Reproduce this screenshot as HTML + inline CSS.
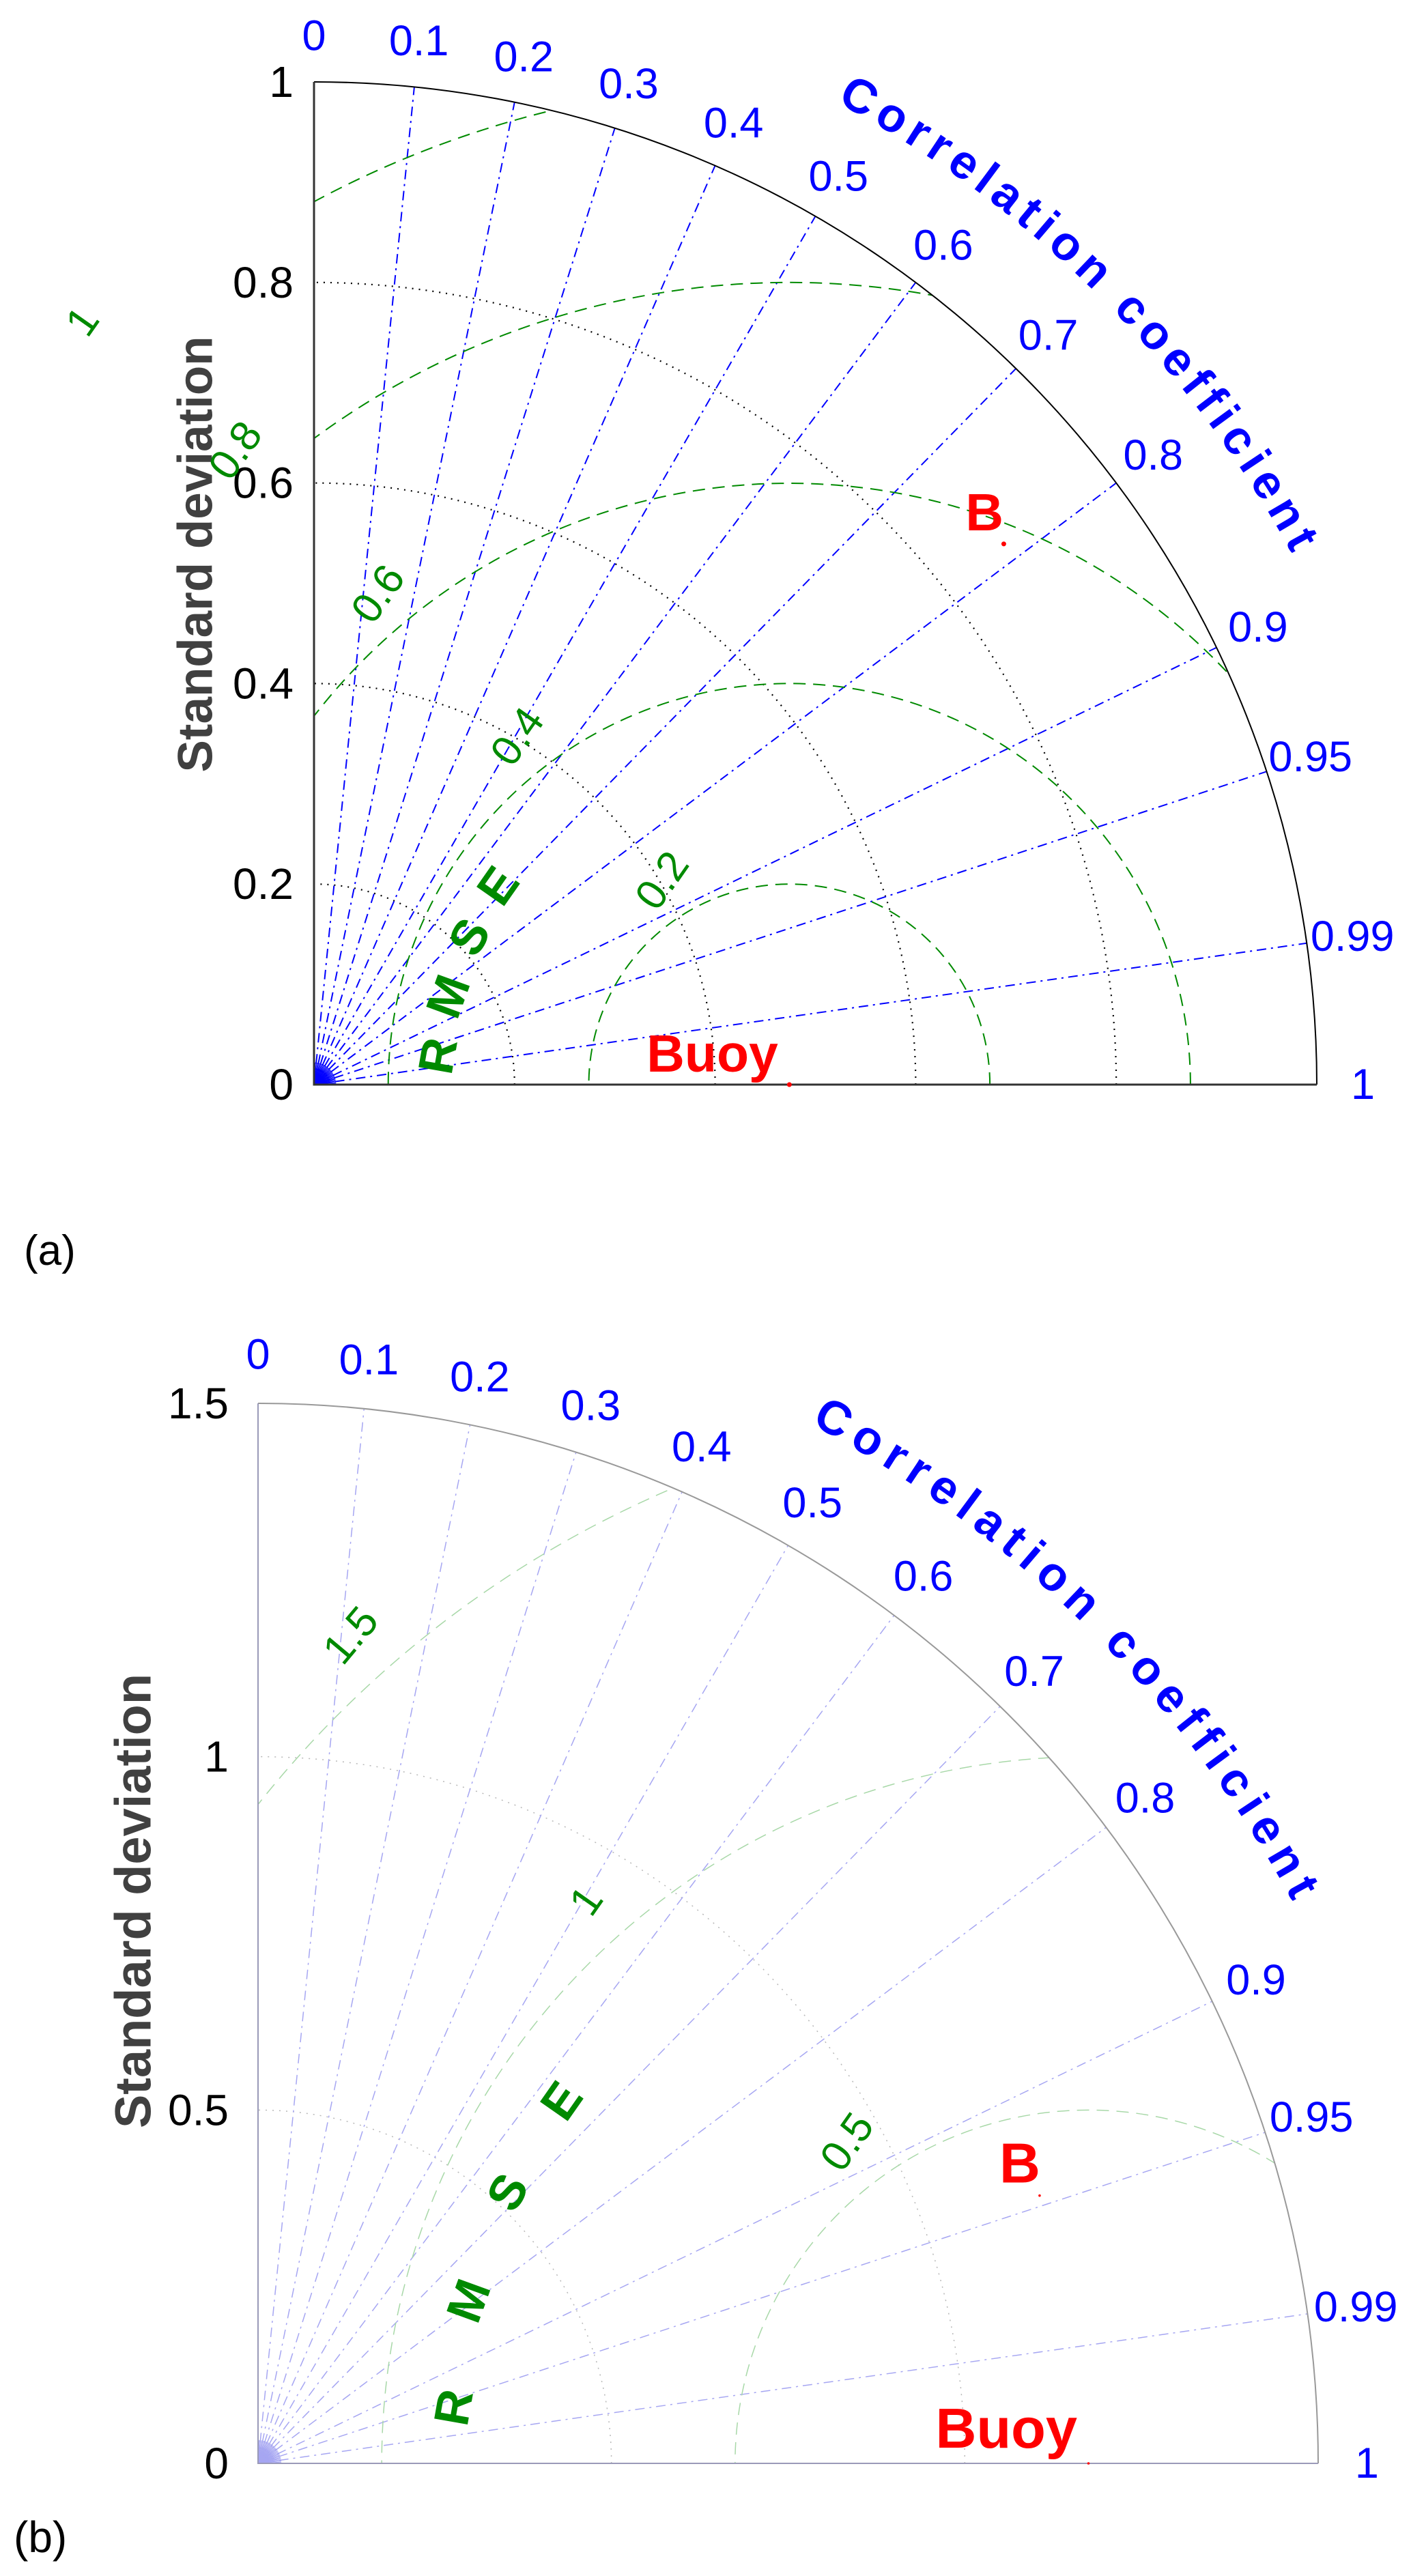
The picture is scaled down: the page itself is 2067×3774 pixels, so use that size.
<!DOCTYPE html>
<html><head><meta charset="utf-8"><style>
html,body{margin:0;padding:0;background:#fff;}
svg{display:block;font-family:"Liberation Sans",Arial,sans-serif;}
</style></head><body>
<svg id="svg" width="2067" height="3774" viewBox="0 0 2067 3774" xmlns="http://www.w3.org/2000/svg">
<text x="35" y="1853" font-size="62" fill="#000">(a)</text>
<text x="20" y="3739" font-size="64" fill="#000">(b)</text>
</svg>
<script>
// ---------- data ----------
const corrTicks = [0,0.1,0.2,0.3,0.4,0.5,0.6,0.7,0.8,0.9,0.95,0.99,1];
const corrTickLabels = ["0","0.1","0.2","0.3","0.4","0.5","0.6","0.7","0.8","0.9","0.95","0.99","1"];
// panel a
const aStdTicks = [0,0.2,0.4,0.6,0.8,1];
const aStdTickLabels = ["0","0.2","0.4","0.6","0.8","1"];
const aRmseLevels = [0.2,0.4,0.6,0.8,1.0];
const aRmseLabels = ["0.2","0.4","0.6","0.8","1"];
const aRefStd = 0.474;
const aModelNames = ["B"];
const aModelStd = [0.874];
const aModelCorr = [0.787];
// panel b
const bStdTicks = [0,0.5,1,1.5];
const bStdTickLabels = ["0","0.5","1","1.5"];
const bRmseLevels = [0.5,1.0,1.5];
const bRmseLabels = ["0.5","1","1.5"];
const bRefStd = 1.175;
const bModelNames = ["B"];
const bModelStd = [1.169];
const bModelCorr = [0.946];

const NS = "http://www.w3.org/2000/svg";
const svg = document.getElementById('svg');
function mk(tag, attrs, parent){
  const e = document.createElementNS(NS, tag);
  for (const k in attrs) e.setAttribute(k, attrs[k]);
  (parent||svg).appendChild(e);
  return e;
}

function panel(cfg){
  const {id, ox, oy, Rpx, maxStd, stdTicks, stdLabels, rmse, rmseLabels, refStd, names, mstd, mcorr, light, titleX, titleY, titleSize, tickGap, rmseLabelPos, letterPos, bText, buoyText, bFont, dotR} = cfg;
  const s = Rpx / maxStd;
  const X = (x)=> ox + x*s;
  const Y = (y)=> oy - y*s;
  const g = mk('g', {});
  
  

  const blue = light ? '#a6a6f2' : '#0000ff';
  const green = light ? '#a8d8a8' : '#008a00';
  const dotc = light ? '#b8b8b8' : '#000';
  const axisc = light ? '#9a9ab8' : '#333';
  const arcc = light ? '#999' : '#000';

  const clipId = id + '-clip';
  const defs = mk('defs', {}, g);
  const cp = mk('clipPath', {id: clipId}, defs);
  mk('path', {d:`M${ox},${oy} L${X(maxStd)},${oy} A${Rpx},${Rpx} 0 0 0 ${ox},${Y(maxStd)} Z`}, cp);

  // std dotted arcs
  stdTicks.forEach(v=>{
    if (v<=0 || v>=maxStd) return;
    const a = mk('path', {d:`M${X(v)},${oy} A${v*s},${v*s} 0 0 0 ${ox},${Y(v)}`, fill:'none', stroke:dotc, 'stroke-width':light?1.5:2.2, 'stroke-dasharray':'2 8'}, g);
    
    
  });

  // origin fan
  for (let d=3; d<90; d+=3){
    const t = d*Math.PI/180;
    const f = mk('line', {x1:ox, y1:oy, x2:ox+0.022*Rpx*Math.cos(t), y2:oy-0.022*Rpx*Math.sin(t), stroke:blue, 'stroke-width':1.2}, g);
    
    
  }

  // correlation spokes
  corrTicks.forEach(c=>{
    if (c<=0 || c>=1) return;
    const t = Math.acos(c);
    const l = mk('line', {x1:ox, y1:oy, x2:ox+Rpx*Math.cos(t), y2:oy-Rpx*Math.sin(t), stroke:blue, 'stroke-width':light?1.5:2, 'stroke-dasharray':'14 7 3 7'}, g);
    
    
  });

  // RMSE arcs
  const rg = mk('g', {'clip-path':`url(#${clipId})`}, g);
  rmse.forEach(r=>{
    const p = mk('path', {d:`M${X(refStd+r)},${oy} A${r*s},${r*s} 0 0 0 ${X(refStd-r)},${oy}`, fill:'none', stroke:green, 'stroke-width':light?1.5:2, 'stroke-dasharray':'18 11'}, rg);
    
    
  });

  // outer arc + axes
  const oa = mk('path', {d:`M${X(maxStd)},${oy} A${Rpx},${Rpx} 0 0 0 ${ox},${Y(maxStd)}`, fill:'none', stroke:arcc, 'stroke-width':2}, g);
  
  
  const ax = mk('path', {d:`M${ox},${Y(maxStd)} L${ox},${oy} L${X(maxStd)},${oy}`, fill:'none', stroke:axisc, 'stroke-width':light?2:3}, g);
  
  

  // std tick labels
  stdTicks.forEach((v,i)=>{
    const t = mk('text', {x:ox-tickGap, y:Y(v), 'font-size':64, 'text-anchor':'end', 'dominant-baseline':'central', fill:'#000'}, g);
    t.textContent = stdLabels[i];
    
    
  });

  // correlation tick labels
  corrTicks.forEach((c,i)=>{
    const t0 = Math.acos(c);
    const r = 1.046*Rpx;
    const t = mk('text', {x:ox+r*Math.cos(t0), y:oy-r*Math.sin(t0), 'font-size':63, 'text-anchor':'middle', 'dominant-baseline':'central', fill:'#0000ff'}, g);
    t.textContent = corrTickLabels[i];
    
    
  });

  // Correlation coefficient title along arc
  const rr = 1.126*Rpx - 24;
  const a1 = 62*Math.PI/180, a2 = 28.5*Math.PI/180;
  mk('path', {id:id+'-ccpath', d:`M${ox+rr*Math.cos(a1)},${oy-rr*Math.sin(a1)} A${rr},${rr} 0 0 1 ${ox+rr*Math.cos(a2)},${oy-rr*Math.sin(a2)}`, fill:'none'}, defs);
  const ct = mk('text', {'font-size':70, 'font-weight':'bold', fill:'#0000ff'}, g);
  
  
  const tp = mk('textPath', {href:'#'+id+'-ccpath', textLength: rr*(a1-a2), lengthAdjust:'spacing'}, ct);
  tp.textContent = 'Correlation coefficient';

  // std axis title
  const st = mk('text', {x:titleX, y:titleY, 'font-size':titleSize, 'font-weight':'bold', fill:'#404040', 'text-anchor':'middle', 'dominant-baseline':'central', transform:`rotate(-90 ${titleX} ${titleY})`}, g);
  st.textContent = 'Standard deviation';
  
  

  // RMSE value labels
  rmseLabels.forEach((lab,i)=>{
    const p = rmseLabelPos[i];
    const t = mk('text', {x:p[0], y:p[1], 'font-size':62, fill:'#008a00', 'text-anchor':'middle', 'dominant-baseline':'central', transform:`rotate(${p[2]} ${p[0]} ${p[1]})`}, g);
    t.textContent = lab;
    
    
  });
  // RMSE letters
  ['R','M','S','E'].forEach((ch,i)=>{
    const p = letterPos[i];
    const t = mk('text', {x:p[0], y:p[1], 'font-size':72, 'font-weight':'bold', fill:'#008a00', 'text-anchor':'middle', 'dominant-baseline':'central', transform:`rotate(${p[2]} ${p[0]} ${p[1]})`}, g);
    t.textContent = ch;
    
    
  });

  // reference point
  const rd = mk('circle', {cx:X(refStd), cy:oy, r:dotR, fill:'#ff0000'}, g);
  
  
  const bt = mk('text', {x:X(refStd)+buoyText[0], y:oy+buoyText[1], 'font-size':bFont, 'font-weight':'bold', fill:'#ff0000'}, g);
  bt.textContent = 'Buoy';
  
  

  // model points
  names.forEach((n,i)=>{
    const t0 = Math.acos(mcorr[i]);
    const px = X(mstd[i]*Math.cos(t0)), py = Y(mstd[i]*Math.sin(t0));
    const c = mk('circle', {cx:px, cy:py, r:dotR, fill:'#ff0000'}, g);
    
    
    const t = mk('text', {x:px+bText[0], y:py+bText[1], 'font-size':bFont, 'font-weight':'bold', fill:'#ff0000'}, g);
    t.textContent = n;
    
    
  });
}

panel({id:'a', ox:460, oy:1589, Rpx:1469, maxStd:1, stdTicks:aStdTicks, stdLabels:aStdTickLabels,
  rmse:aRmseLevels, rmseLabels:aRmseLabels, refStd:aRefStd, names:aModelNames, mstd:aModelStd, mcorr:aModelCorr,
  light:false, titleX:287, titleY:812, titleSize:71, tickGap:30,
  rmseLabelPos:[[970,1290,-55],[758,1079,-55],[554,870,-55],[345,660,-55],[121,471,-55]],
  letterPos:[[642,1547,-80],[657,1460,-70],[688,1373,-60],[730,1298,-55]],
  bText:[-56,-20], buoyText:[-209,-19], bFont:77, dotR:3.5});

panel({id:'b', ox:378, oy:3609, Rpx:1553, maxStd:1.5, stdTicks:bStdTicks, stdLabels:bStdTickLabels,
  rmse:bRmseLevels, rmseLabels:bRmseLabels, refStd:bRefStd, names:bModelNames, mstd:bModelStd, mcorr:bModelCorr,
  light:true, titleX:195, titleY:2785, titleSize:74, tickGap:43,
  rmseLabelPos:[[1241,3138,-55],[859,2785,-55],[514,2396,-50]],
  letterPos:[[665,3527,-80],[687,3371,-70],[744,3212,-60],[823,3078,-55]],
  bText:[-59,-19], buoyText:[-224,-23], bFont:83, dotR:1.8});
</script>
</body></html>
